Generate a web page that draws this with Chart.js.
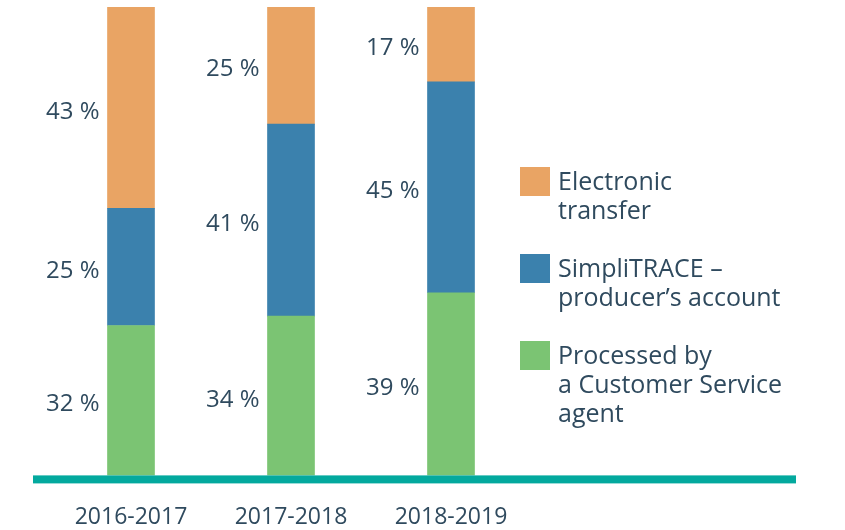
<!DOCTYPE html>
<html>
<head>
<meta charset="utf-8">
<script src="https://cdn.jsdelivr.net/npm/chart.js@4.4.0/dist/chart.umd.min.js"></script>
<style>
  html, body { margin: 0; padding: 0; background: #fff; }
  #wrap { width: 845px; height: 530px; position: relative; overflow: hidden; }
</style>
</head>
<body>
<div id="wrap"><canvas id="chart" width="845" height="559"></canvas></div>
<script>
// data
const years = ['2016-2017', '2017-2018', '2018-2019'];
const agentValues = [32, 34, 39];
const simpliValues = [25, 41, 45];
const electronicValues = [43, 25, 17];
const agentLabel = ['Processed by', 'a Customer Service', 'agent'];
const simpliLabel = ['SimpliTRACE –', 'producer’s account'];
const electronicLabel = ['Electronic', 'transfer'];

const textColor = '#2f4a5e';
const fontFamily = '"Open Sans", "Noto Sans", sans-serif';

// percent labels to the left of each segment
const sideLabels = {
  id: 'sideLabels',
  afterDatasetsDraw(chart) {
    const ctx = chart.ctx;
    ctx.save();
    ctx.font = '24px ' + fontFamily;
    ctx.fillStyle = textColor;
    ctx.textAlign = 'right';
    ctx.textBaseline = 'middle';
    chart.data.datasets.forEach((ds, i) => {
      const meta = chart.getDatasetMeta(i);
      meta.data.forEach((bar, j) => {
        const top = Math.max(bar.y, chart.chartArea.top);
        const y = (top + bar.base) / 2 + 4;
        ctx.fillText(ds.data[j] + ' %', bar.x - bar.width / 2 - 8, y);
      });
    });
    ctx.restore();
  }
};

// teal base line and the legend on the right
const extras = {
  id: 'extras',
  afterDraw(chart) {
    const ctx = chart.ctx;
    const area = chart.chartArea;
    ctx.save();
    ctx.fillStyle = '#03a99e';
    ctx.fillRect(33, area.bottom, 763, 8);

    ctx.font = '25px ' + fontFamily;
    ctx.textAlign = 'left';
    ctx.textBaseline = 'middle';
    const rows = [2, 1, 0];
    const tops = [167, 254, 341];
    rows.forEach((di, k) => {
      const ds = chart.data.datasets[di];
      ctx.fillStyle = ds.backgroundColor;
      ctx.fillRect(520, tops[k], 30, 29);
      ctx.fillStyle = textColor;
      ds.label.forEach((line, n) => {
        ctx.fillText(line, 558, tops[k] + 16 + n * 29);
      });
    });
    ctx.restore();
  }
};

new Chart(document.getElementById('chart'), {
  type: 'bar',
  data: {
    labels: years,
    datasets: [
      { label: agentLabel, data: agentValues, backgroundColor: '#7bc473' },
      { label: simpliLabel, data: simpliValues, backgroundColor: '#3b81ad' },
      { label: electronicLabel, data: electronicValues, backgroundColor: '#e9a464' }
    ]
  },
  options: {
    responsive: false,
    animation: false,
    layout: { padding: { left: 51, right: 314, top: 7, bottom: 0 } },
    datasets: { bar: { barThickness: 47, borderWidth: 0 } },
    plugins: { legend: { display: false }, tooltip: { enabled: false } },
    scales: {
      x: {
        stacked: true,
        grid: { display: false, drawTicks: false },
        border: { display: false },
        ticks: { color: textColor, font: { family: fontFamily, size: 23 }, padding: 28 }
      },
      y: {
        stacked: true,
        display: false,
        min: 0,
        max: 100
      }
    }
  },
  plugins: [sideLabels, extras]
});
</script>
</body>
</html>
